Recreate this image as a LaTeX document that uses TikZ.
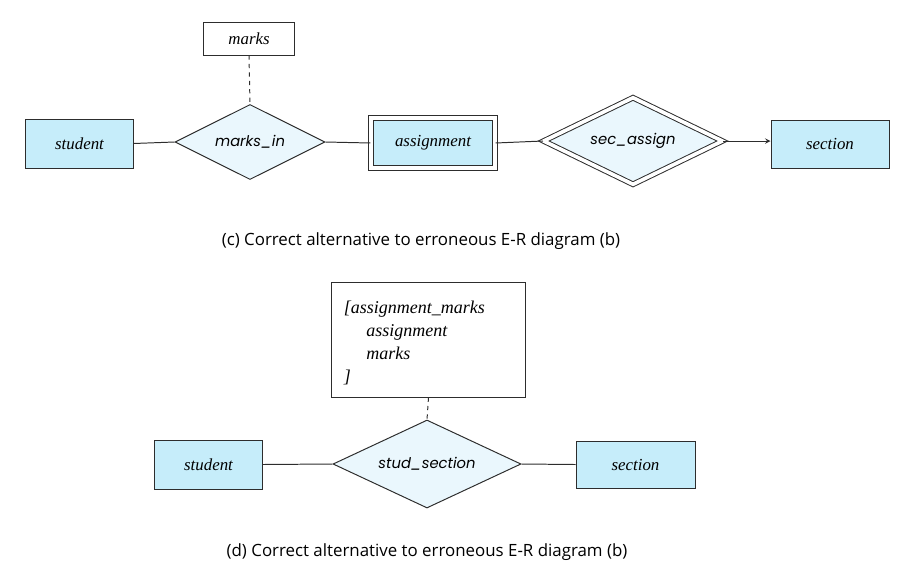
\documentclass[tikz,border=0pt]{standalone}
\usepackage{fontspec}
\setmainfont{Liberation Serif}
\newfontfamily\relfont{Poppins}
\newfontfamily\capfont{Open Sans}
\usepackage{tikz}
\usetikzlibrary{shapes.geometric}
\definecolor{entfill}{RGB}{198, 237, 250}
\definecolor{relfill}{RGB}{234, 247, 253}
\definecolor{ink}{RGB}{45, 45, 45}

\begin{document}
\begin{tikzpicture}[x=0.025cm, y=-0.025cm,
  entity/.style={draw=ink, fill=entfill, line width=0.7pt, inner sep=0,
    font=\fontsize{12}{14}\selectfont\itshape},
  weakentity/.style={entity, double=white, double distance=2.6pt},
  rel/.style={diamond, aspect=2, draw=ink, fill=relfill, line width=0.7pt, inner sep=0,
    font=\fontsize{10.5}{12}\relfont\itshape},
  weakrel/.style={rel, double=white, double distance=2.6pt},
  attr/.style={draw=ink, fill=white, line width=0.7pt,
    font=\fontsize{12}{14}\selectfont\itshape},
  link/.style={draw=ink, line width=0.7pt},
  caption/.style={font=\fontsize{12}{14}\capfont}]

\useasboundingbox (0, 0) rectangle (912, 580);

% (c)
\node[entity, minimum width=2.675cm, minimum height=1.225cm] (student) at (79.5, 143.5) {student};
\node[rel, minimum width=3.75cm, minimum height=1.875cm] (marksin) at (250, 142) {marks\_in};
\node[attr, minimum width=2.25cm, minimum height=0.825cm, inner sep=0] (marks) at (249, 38.5) {marks};
\node[weakentity, minimum width=3.1cm, minimum height=1.25cm] (assignment) at (433, 143) {assignment};
\node[weakrel, minimum width=4.475cm, minimum height=2.175cm] (secassign) at (633, 141) {sec\_assign};
\node[entity, minimum width=2.95cm, minimum height=1.2cm] (section) at (830, 144) {section};

\draw[link] (student.east) -- (marksin.west);
\draw[link, dashed] (marks.south) -- (marksin.north);
\draw[link] (marksin.east) -- (assignment.west);
\draw[link] (assignment.east) -- (secassign.west);
\draw[link, ->, >=stealth] (secassign.east) -- (section.west |- secassign.east);

\node[caption] (capc) at (421, 241) {(c) Correct alternative to erroneous E-R diagram (b)};

% (d)
\node[attr, minimum width=4.825cm, minimum height=2.4cm, text width=4.225cm, inner sep=0.3cm,
  align=left, font=\fontsize{12.8}{16.3}\selectfont\itshape] (studattr) at (428.5, 340)
  {\rule{0pt}{13.5pt}[assignment\_marks\\ \hspace*{1.25em}assignment\\ \hspace*{1.25em}marks\\ ]};
\node[rel, minimum width=4.7cm, minimum height=2.2cm] (studsection) at (427, 464) {stud\_section};
\node[entity, minimum width=2.675cm, minimum height=1.225cm] (student2) at (208.5, 464.5) {student};
\node[entity, minimum width=2.975cm, minimum height=1.175cm] (section2) at (635.5, 464.5) {section};

\draw[link, dashed] (studattr.south) -- (studsection.north);
\draw[link] (student2.east) -- (studsection.west);
\draw[link] (studsection.east) -- (section2.west);

\node[caption] (capd) at (427, 552) {(d) Correct alternative to erroneous E-R diagram (b)};

\end{tikzpicture}
\end{document}
